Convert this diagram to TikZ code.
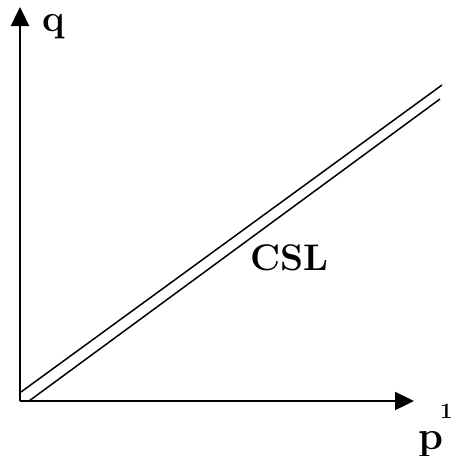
\documentclass[tikz,border=0pt]{standalone}
\usetikzlibrary{arrows.meta}
\begin{document}
\begin{tikzpicture}[x=1pt,y=-1pt,
  axis/.style={line width=2.4pt,-{Triangle[length=19pt,width=18pt]}},
  csl/.style={line width=1.5pt},
  lbl/.style={inner sep=0pt,font=\bfseries}]
\useasboundingbox (0,0) rectangle (452,456);
\coordinate (O) at (20,401);
\coordinate (Ytop) at (20,7);
\coordinate (Xend) at (414,401);
\draw[axis] (O) -- (Ytop);
\draw[axis] (O) -- (Xend);
\coordinate (a1) at (21,392);
\coordinate (a2) at (442,85);
\coordinate (b1) at (29,401);
\coordinate (b2) at (440,99);
\draw[csl] (a1) -- (a2);
\draw[csl] (b1) -- (b2);
\node[lbl,anchor=base west] (q) at (42,31) {\fontsize{38}{42}\selectfont q};
\node[lbl,anchor=base west] (p) at (418,449) {\fontsize{40}{44}\selectfont p};
\node[lbl,anchor=base west] (pr) at (440,418) {\fontsize{22}{26}\selectfont 1};
\node[lbl,anchor=base west] (c) at (250,270) {\fontsize{37}{42}\selectfont CSL};
\end{tikzpicture}
\end{document}
